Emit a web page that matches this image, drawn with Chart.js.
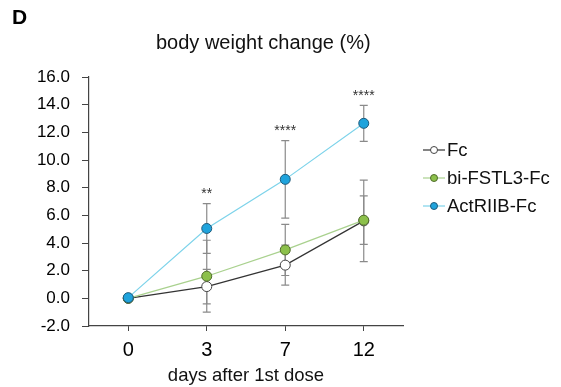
<!DOCTYPE html>
<html lang="en">
<head>
    <meta charset="UTF-8">
    <title>body weight change</title>
    <script src="https://cdn.jsdelivr.net/npm/chart.js"></script>
    <style>
        body { margin: 0; background: #fff; }
        .wrap { width: 561px; height: 387px; }
    </style>
</head>
<body>
    <div class="wrap"><canvas id="bwChart" width="561" height="387"></canvas></div>

    <script>
        // data
        const days = ['0', '3', '7', '12'];
        const fcMean = [0, 0.85, 2.4, 5.6];
        const fcErr = [0, 1.25, 1.45, 2.95];
        const fstlMean = [0, 1.6, 3.5, 5.65];
        const fstlErr = [0, 2.6, 1.85, 1.75];
        const actMean = [0.05, 5.05, 8.6, 12.65];
        const actErr = [0, 1.8, 2.8, 1.3];
        const sigMarks = ['', '**', '****', '****'];
        const yTicks = [-2, 0, 2, 4, 6, 8, 10, 12, 14, 16];

        const FONT = '"Liberation Sans", Arial, sans-serif';

        const errorBars = {
            id: 'errorBars',
            beforeDatasetsDraw(chart) {
                const ctx = chart.ctx;
                const y = chart.scales.y;
                ctx.save();
                ctx.strokeStyle = '#8a8a8a';
                ctx.lineWidth = 1.2;
                chart.data.datasets.forEach((ds, i) => {
                    const meta = chart.getDatasetMeta(i);
                    meta.data.forEach((pt, j) => {
                        const e = ds.err[j];
                        if (!e) return;
                        const yt = y.getPixelForValue(ds.data[j] + e);
                        const yb = y.getPixelForValue(ds.data[j] - e);
                        ctx.beginPath();
                        ctx.moveTo(pt.x, yt); ctx.lineTo(pt.x, yb);
                        ctx.moveTo(pt.x - 4, yt); ctx.lineTo(pt.x + 4, yt);
                        ctx.moveTo(pt.x - 4, yb); ctx.lineTo(pt.x + 4, yb);
                        ctx.stroke();
                    });
                });
                ctx.restore();
            },
            afterDraw(chart) {
                const ctx = chart.ctx;
                const x = chart.scales.x;
                const y = chart.scales.y;
                const area = chart.chartArea;
                ctx.save();
                // significance marks above highest bar
                ctx.fillStyle = '#333';
                ctx.font = '14px ' + FONT;
                ctx.textAlign = 'center';
                ctx.textBaseline = 'bottom';
                sigMarks.forEach((m, j) => {
                    if (!m) return;
                    let top = -Infinity;
                    chart.data.datasets.forEach(ds => { top = Math.max(top, ds.data[j] + ds.err[j]); });
                    ctx.fillText(m, x.getPixelForValue(j), y.getPixelForValue(top) - 2);
                });
                // panel letter + title
                ctx.fillStyle = '#000';
                ctx.textAlign = 'left';
                ctx.textBaseline = 'middle';
                ctx.font = 'bold 21px ' + FONT;
                ctx.fillText('D', 12, 18);
                ctx.font = '20px ' + FONT;
                ctx.fillStyle = '#111';
                ctx.fillText('body weight change (%)', 156, 43);
                // x axis title
                ctx.textAlign = 'center';
                ctx.font = '18.5px ' + FONT;
                ctx.fillText('days after 1st dose', (area.left + area.right) / 2, 376);
                // legend
                ctx.font = '18.5px ' + FONT;
                ctx.textAlign = 'left';
                chart.data.datasets.forEach((ds, i) => {
                    const ly = 150 + i * 28;
                    ctx.strokeStyle = ds.borderColor;
                    ctx.lineWidth = 1.2;
                    ctx.beginPath(); ctx.moveTo(423, ly); ctx.lineTo(445, ly); ctx.stroke();
                    ctx.beginPath(); ctx.arc(434, ly, 3.5, 0, Math.PI * 2);
                    ctx.fillStyle = ds.pointBackgroundColor;
                    ctx.fill();
                    ctx.strokeStyle = ds.pointBorderColor;
                    ctx.lineWidth = 1;
                    ctx.stroke();
                    ctx.fillStyle = '#111';
                    ctx.fillText(ds.label, 447, ly + 1);
                });
                ctx.restore();
            }
        };

        new Chart(document.getElementById('bwChart'), {
            type: 'line',
            data: {
                labels: days,
                datasets: [
                    { label: 'Fc', data: fcMean, err: fcErr, order: 2, borderColor: '#333333', borderWidth: 1.2,
                      pointBackgroundColor: '#ffffff', pointBorderColor: '#444444' },
                    { label: 'bi-FSTL3-Fc', data: fstlMean, err: fstlErr, order: 1, borderColor: '#a9d18e', borderWidth: 1.2,
                      pointBackgroundColor: '#8cc04b', pointBorderColor: '#4f6b2a' },
                    { label: 'ActRIIB-Fc', data: actMean, err: actErr, order: 0, borderColor: '#7dd3ea', borderWidth: 1.2,
                      pointBackgroundColor: '#1fa3dc', pointBorderColor: '#1f5a7a' }
                ].map(d => Object.assign(d, { pointRadius: 5, pointBorderWidth: 1, tension: 0, fill: false })),
            },
            options: {
                responsive: false,
                animation: false,
                layout: { padding: { top: 77, right: 158, left: 0, bottom: 0 } },
                plugins: { legend: { display: false }, title: { display: false }, tooltip: { enabled: false } },
                scales: {
                    x: {
                        offset: true,
                        grid: { drawOnChartArea: false, tickLength: 5, color: '#444' },
                        border: { color: '#444', width: 1.2 },
                        ticks: { color: '#000', font: { family: FONT, size: 20 }, padding: 7 },
                        afterFit(s) { s.height = 61; }
                    },
                    y: {
                        min: -2, max: 16,
                        afterBuildTicks(s) { s.ticks = yTicks.map(v => ({ value: v })); },
                        grid: { drawOnChartArea: false, tickLength: 7, color: '#444' },
                        border: { color: '#444', width: 1.2 },
                        ticks: { color: '#000', font: { family: FONT, size: 17 }, padding: 12,
                                 callback: v => v.toFixed(1) },
                        afterFit(s) { s.width = 89; }
                    }
                }
            },
            plugins: [errorBars]
        });
    </script>
</body>
</html>
